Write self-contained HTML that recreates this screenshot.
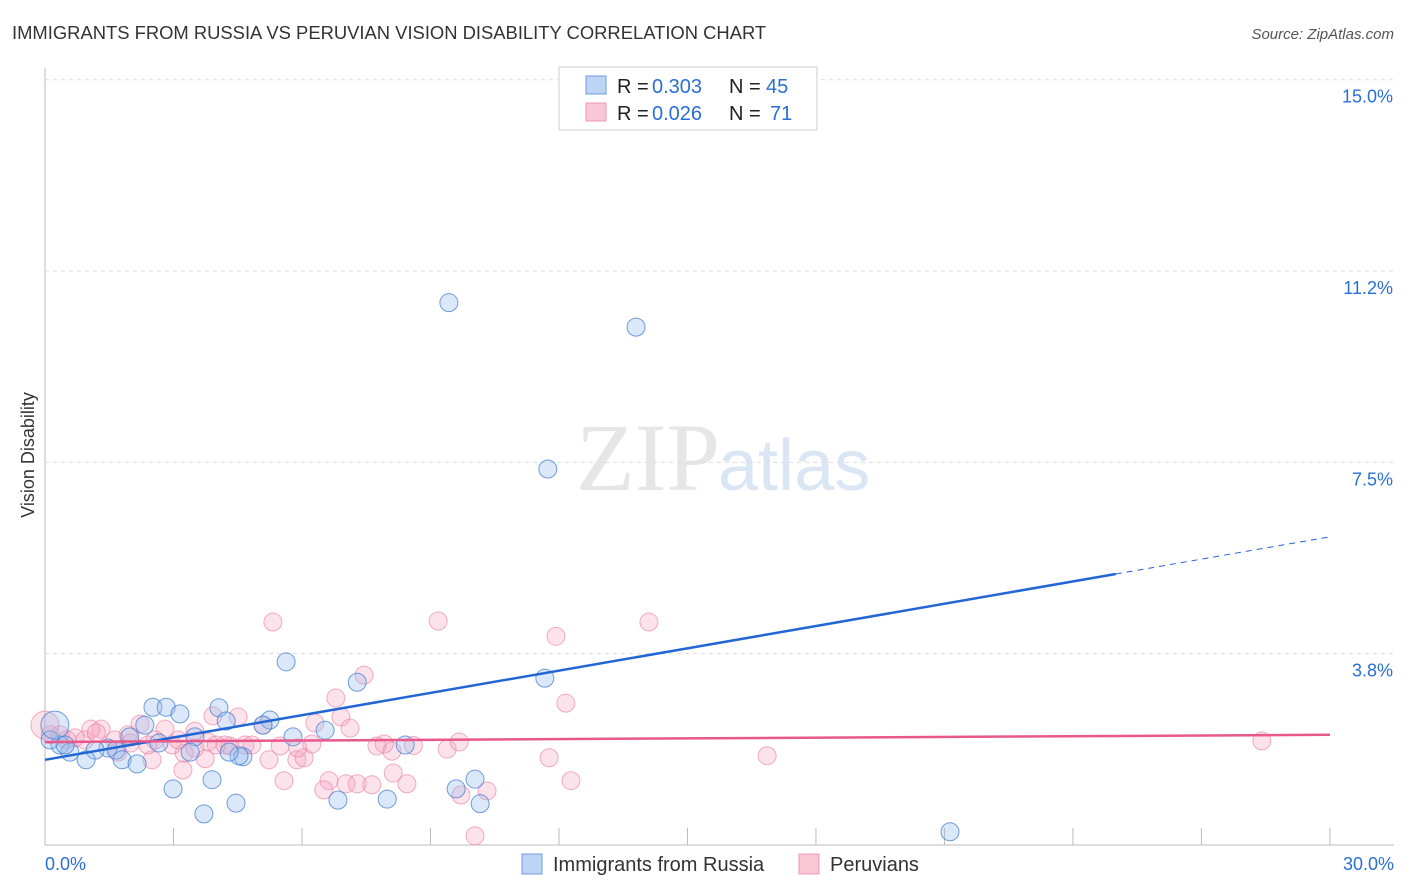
<!DOCTYPE html>
<html><head><meta charset="utf-8"><style>
body{margin:0;background:#fff;font-family:"Liberation Sans",sans-serif}
svg{display:block}
</style></head><body>
<svg id="c" width="1406" height="892">
<text x="12" y="39" font-size="18.4" fill="#333">IMMIGRANTS FROM RUSSIA VS PERUVIAN VISION DISABILITY CORRELATION CHART</text>
<text x="1394" y="39" font-size="15" fill="#555" font-style="italic" text-anchor="end">Source: ZipAtlas.com</text>
<text x="720" y="490" font-size="96" fill="#e6e6e6" text-anchor="end" font-family="Liberation Serif">ZIP</text>
<text x="718" y="490" font-size="72" fill="#dbe6f5">atlas</text>
<text x="34" y="455" font-size="18" fill="#333" text-anchor="middle" transform="rotate(-90 34 455)">Vision Disability</text>
<g id="grid"></g><g id="pts"></g><g id="lines"></g>
<g>
<rect x="559" y="67" width="258" height="63" fill="#fff" stroke="#ccc"/>
<rect x="586" y="76" width="20" height="18" fill="#bdd5f5" stroke="#6a9be0"/>
<rect x="586" y="103" width="20" height="18" fill="#fac6d6" stroke="#ef96b3"/>
<text font-size="20" fill="#222"><tspan x="617" y="93">R = </tspan><tspan x="652" y="93" fill="#2a6fd6">0.303</tspan><tspan x="729" y="93">N = </tspan><tspan x="766" y="93" fill="#2a6fd6">45</tspan></text>
<text font-size="20" fill="#222"><tspan x="617" y="120">R = </tspan><tspan x="652" y="120" fill="#2a6fd6">0.026</tspan><tspan x="729" y="120">N = </tspan><tspan x="770" y="120" fill="#2a6fd6">71</tspan></text>
</g>
<g>
<rect x="522" y="854" width="20" height="20" fill="#bdd5f5" stroke="#6a9be0"/>
<text x="553" y="871" font-size="20" fill="#333">Immigrants from Russia</text>
<rect x="799" y="854" width="20" height="20" fill="#fac6d6" stroke="#ef96b3"/>
<text x="830" y="871" font-size="20" fill="#333">Peruvians</text>
</g>
<text x="45" y="870" font-size="18" fill="#2a6fd6">0.0%</text>
<text x="1394" y="870" font-size="18" fill="#2a6fd6" text-anchor="end">30.0%</text>
</svg>
<script>
const yTicks=[3.75,7.5,11.25,15];
const yTickLabels=["3.8%","7.5%","11.2%","15.0%"];
const xTicks=[3,6,9,12,15,18,21,24,27,30];
const russiaX=[9.43,13.80,11.74,5.63,7.29,11.67,2.52,2.83,3.15,4.06,4.23,5.25,5.09,2.33,6.54,5.79,8.41,3.50,1.98,2.66,3.39,1.47,1.17,1.66,0.35,0.58,0.12,0.96,1.80,2.15,4.62,4.53,3.90,10.04,9.60,2.99,4.46,6.84,7.99,10.16,3.71,21.13,0.23,0.47,4.30];
const russiaY=[10.63,10.15,7.37,3.59,3.19,3.27,2.70,2.70,2.57,2.69,2.43,2.45,2.35,2.35,2.25,2.12,1.96,2.12,2.12,2.00,1.82,1.90,1.86,1.86,1.96,1.82,2.06,1.67,1.67,1.59,1.73,1.75,1.28,1.29,1.10,1.10,0.82,0.88,0.90,0.81,0.61,0.26,2.35,1.96,1.82];
const peruX=[5.32,9.18,14.10,11.93,7.45,6.79,12.16,6.91,4.51,3.92,5.09,6.30,7.12,2.22,1.31,1.07,2.80,3.50,1.94,0.35,0.70,0.93,1.63,2.57,3.81,4.32,4.67,4.83,5.49,6.23,7.75,7.92,8.10,9.39,9.67,28.41,16.86,11.77,2.97,3.25,3.74,2.50,3.22,5.88,6.05,5.23,8.13,8.45,6.63,6.51,7.03,7.29,7.63,9.71,10.32,12.28,5.58,10.04,0.0,0.51,4.20,3.11,1.70,0.12,2.40,3.50,4.0,2.0,5.9,1.2,8.6];
const peruY=[4.37,4.39,4.37,4.09,3.33,2.88,2.78,2.51,2.51,2.53,2.35,2.39,2.29,2.37,2.27,2.27,2.27,2.23,2.16,2.16,2.10,2.06,2.06,2.06,2.02,1.94,1.96,1.96,1.94,1.98,1.94,1.98,1.84,1.88,2.02,2.04,1.75,1.71,1.96,1.80,1.69,1.67,1.47,1.67,1.71,1.67,1.41,1.20,1.26,1.08,1.20,1.20,1.18,0.98,1.06,1.26,1.26,0.18,2.35,2.06,1.96,2.06,1.82,2.16,1.96,1.90,1.96,2.0,1.9,2.2,1.95];
const russiaFit=[1.67,6.04];
const peruFit=[2.02,2.16];
const X=v=>45+v*42.83, Y=v=>845-v*51.02;
const NS='http://www.w3.org/2000/svg';
function mk(t,a,p){const e=document.createElementNS(NS,t);for(const k in a)e.setAttribute(k,a[k]);p.appendChild(e);return e;}
const grid=document.getElementById('grid');
let ax=mk('line',{x1:45,y1:68,x2:45,y2:845,stroke:'#bbb'},grid);


let bx=mk('line',{x1:45,y1:845,x2:1394,y2:845,stroke:'#bbb'},grid);


yTicks.forEach((v,i)=>{
 const g=mk('line',{x1:45,y1:Y(v),x2:1394,y2:Y(v),stroke:'#ddd','stroke-dasharray':'4,4'},grid);
 
 
 const t=mk('text',{x:1393,y:Y(v)+23,'font-size':18,fill:'#2a6fd6','text-anchor':'end'},grid);
 t.textContent=yTickLabels[i];
 
 
});
xTicks.forEach(v=>{
 const t=mk('line',{x1:X(v),y1:828,x2:X(v),y2:845,stroke:'#bbb'},grid);
 
 
});
const pts=document.getElementById('pts');
peruX.forEach((x,i)=>{
 const c=mk('circle',{cx:X(x),cy:Y(peruY[i]),r:(x<0.1?14:9),fill:'rgba(245,160,188,0.3)',stroke:'rgba(235,130,165,0.65)','stroke-width':1},pts);
 
 
});
russiaX.forEach((x,i)=>{
 const c=mk('circle',{cx:X(x),cy:Y(russiaY[i]),r:(i==42?14:9),fill:'rgba(150,188,238,0.35)',stroke:'rgba(70,125,210,0.75)','stroke-width':1},pts);
 
 
});
const L=document.getElementById('lines');
const yAt=(f,x)=>f[0]+(f[1]-f[0])*x/30;
let l1=mk('line',{x1:X(0),y1:Y(yAt(russiaFit,0)),x2:X(25),y2:Y(yAt(russiaFit,25)),stroke:'#2166d4','stroke-width':2.5},L);


let l2=mk('line',{x1:X(25),y1:Y(yAt(russiaFit,25)),x2:X(30),y2:Y(yAt(russiaFit,30)),stroke:'#2166d4','stroke-width':1,'stroke-dasharray':'6,5'},L);


let l3=mk('line',{x1:X(0),y1:Y(yAt(peruFit,0)),x2:X(30),y2:Y(yAt(peruFit,30)),stroke:'#e8588a','stroke-width':2.5},L);


</script>
</body></html>
